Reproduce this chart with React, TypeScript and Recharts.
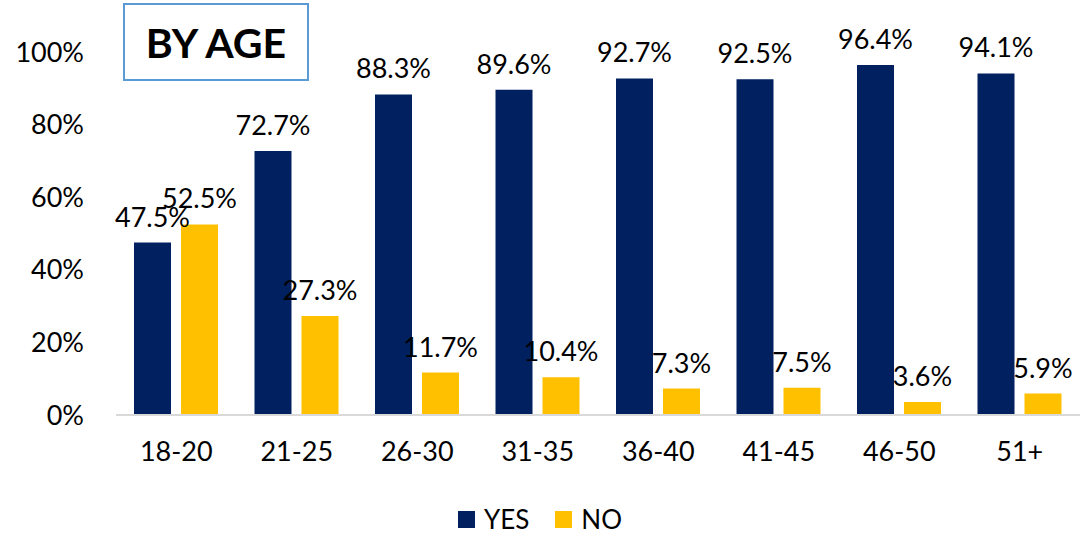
import React from "react";
import { BarChart, Bar, XAxis, YAxis, Legend, LabelList } from "recharts";

const categories = ["18-20", "21-25", "26-30", "31-35", "36-40", "41-45", "46-50", "51+"];
const yesValues = [47.5, 72.7, 88.3, 89.6, 92.7, 92.5, 96.4, 94.1];
const noValues = [52.5, 27.3, 11.7, 10.4, 7.3, 7.5, 3.6, 5.9];
const yTicks = [0, 20, 40, 60, 80, 100];

const data = categories.map((c, i) => ({ name: c, YES: yesValues[i], NO: noValues[i] }));

const FONT = "Lato, 'Noto Sans', sans-serif";

const renderLegend = () => (
  <div style={{ boxSizing: "border-box", height: 55, paddingTop: 27, display: "flex", justifyContent: "center", alignItems: "flex-start", fontFamily: FONT, fontSize: 26, lineHeight: "26px", color: "#000" }}>
    <span style={{ display: "inline-block", width: 17, height: 17, background: "#002060", marginRight: 9, marginTop: 5 }} />
    <span style={{ marginRight: 26 }}>YES</span>
    <span style={{ display: "inline-block", width: 17, height: 17, background: "#FFC000", marginRight: 9, marginTop: 5 }} />
    <span>NO</span>
  </div>
);

export default function App() {
  return (
    <div style={{ position: "absolute", left: 0, top: 0, width: 1092, height: 534, background: "#fff" }}>
      <BarChart
        width={1092}
        height={534}
        data={data}
        margin={{ top: 52, right: 12, bottom: 0, left: 0 }}
        barGap={10}
      >
        <XAxis
          dataKey="name"
          axisLine={{ stroke: "#D9D9D9", strokeWidth: 2 }}
          tickLine={false}
          tickSize={0}
          tickMargin={27}
          height={64}
          tick={{ fill: "#000", fontSize: 27, fontFamily: FONT }}
        />
        <YAxis
          domain={[0, 100]}
          ticks={yTicks}
          width={116}
          axisLine={false}
          tickLine={false}
          tickSize={0}
          tickMargin={32}
          tickFormatter={(v: number) => `${v}%`}
          tick={{ fill: "#000", fontSize: 27, fontFamily: FONT }}
        />
        <Legend verticalAlign="bottom" content={renderLegend} />
        <Bar dataKey="YES" fill="#002060" barSize={37} isAnimationActive={false}>
          <LabelList
            dataKey="YES"
            position="top"
            offset={16}
            formatter={(v: number) => `${v.toFixed(1)}%`}
            style={{ fill: "#000", fontSize: 27, fontFamily: FONT }}
          />
        </Bar>
        <Bar dataKey="NO" fill="#FFC000" barSize={37} isAnimationActive={false}>
          <LabelList
            dataKey="NO"
            position="top"
            offset={16}
            formatter={(v: number) => `${v.toFixed(1)}%`}
            style={{ fill: "#000", fontSize: 27, fontFamily: FONT }}
          />
        </Bar>
      </BarChart>
      <div
        style={{
          boxSizing: "border-box",
          position: "absolute",
          left: 123,
          top: 3,
          width: 186,
          height: 78,
          border: "2px solid #5B9BD5",
          background: "#fff",
          display: "flex",
          alignItems: "center",
          justifyContent: "center",
          fontFamily: FONT,
          fontWeight: 700,
          fontSize: 41,
          color: "#000",
        }}
      >
        BY AGE
      </div>
    </div>
  );
}
